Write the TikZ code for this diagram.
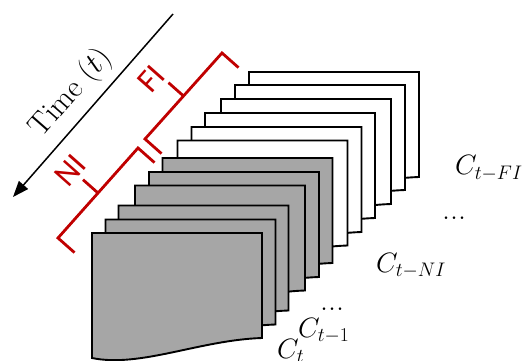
\RequirePackage{fix-cm}
\documentclass[tikz,border=0pt]{standalone}
\usepackage{fontspec}
\newfontfamily\brkfont{Carlito}
\usetikzlibrary{arrows.meta}
\definecolor{brkred}{HTML}{C00000}
\definecolor{sheetgray}{HTML}{A6A6A6}

\begin{document}
\begin{tikzpicture}[x=1pt,y=-1pt,
  sheet/.style={draw=black,line width=1.9pt},
  brk/.style={draw=brkred,line width=2.8pt},
  brklabel/.style={text=brkred,rotate=48.5,inner sep=0pt,font=\brkfont\fontsize{33}{38}\selectfont},
  clabel/.style={anchor=base west,inner sep=0pt,font=\fontsize{28}{32}\selectfont},
  dotlabel/.style={anchor=base west,inner sep=0pt,font=\fontsize{32}{36}\selectfont}]
\useasboundingbox (0,0) rectangle (523,361);
% stack of frames, back to front
\foreach \x/\y/\c in {249/72/white,235/85/white,221/99/white,205/113/white,191.5/127/white,177.5/140.5/white,
  162.5/158/sheetgray,149/172/sheetgray,135/185.5/sheetgray,118.5/205.5/sheetgray,105.5/219.5/sheetgray,92/233/sheetgray}
  \draw[sheet,fill=\c,shift={(\x,\y)}] (0,0) -- (170,0) -- (170,105)
    .. controls (108,107) and (48,135) .. (0,125) -- cycle;
% time axis
\coordinate (tstart) at (173,14);
\coordinate (tend) at (13,197);
\draw[-{Triangle[length=16pt,width=12pt]},line width=1.5pt] (tstart) -- (tend);
\node[rotate=48.8,inner sep=0pt,font=\fontsize{31}{36}\selectfont] (time) at (71,93) {Time $(t)$};
% intervals
\draw[brk] (238.5,67.6) -- (222,53) -- (145,139) -- (161.5,153.6);
\draw[brk] (154.5,162.6) -- (138,148) -- (58,238) -- (74.5,252.6);
\draw[brk] (183.5,96) -- ++(-15,-13.3);
\draw[brk] (98,193) -- ++(-15,-13.3);
\node[brklabel] (fi) at (151,79) {FI};
\node[brklabel] (ni) at (70,170) {NI};
% frame labels
\node[clabel] (cfi) at (455,175) {$C_{t-FI}$};
\node[dotlabel] (dfi) at (442,219) {...};
\node[clabel] (cni) at (376,272) {$C_{t-NI}$};
\node[dotlabel] (dni) at (320,310) {...};
\node[clabel] (cone) at (298,337) {$C_{t-1}$};
\node[clabel] (cnow) at (277,358) {$C_t$};
\end{tikzpicture}
\end{document}
